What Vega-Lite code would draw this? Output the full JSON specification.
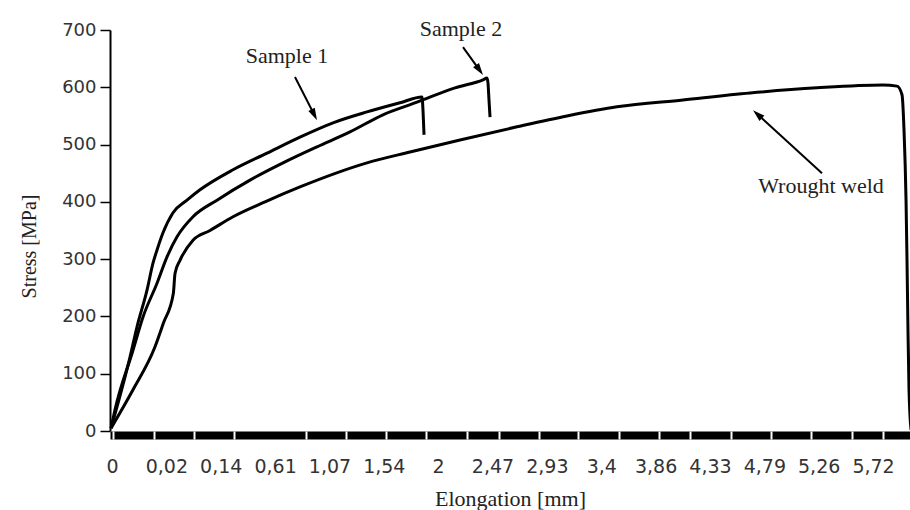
{
  "$schema": "https://vega.github.io/schema/vega-lite/v6.json",
  "width": 800,
  "height": 401,
  "autosize": "none",
  "padding": {"left": 110, "top": 30, "right": 0, "bottom": 79},
  "background": "white",
  "config": {"view": {"stroke": null}},
  "datasets": {
    "curves": [
      {"series": "Sample 1", "x": -0.018, "y": 5},
      {"series": "Sample 1", "x": 0.331, "y": 129},
      {"series": "Sample 1", "x": 0.46, "y": 182},
      {"series": "Sample 1", "x": 0.644, "y": 246},
      {"series": "Sample 1", "x": 0.754, "y": 293},
      {"series": "Sample 1", "x": 0.828, "y": 316},
      {"series": "Sample 1", "x": 0.938, "y": 346},
      {"series": "Sample 1", "x": 1.122, "y": 381},
      {"series": "Sample 1", "x": 1.38, "y": 403},
      {"series": "Sample 1", "x": 1.619, "y": 421},
      {"series": "Sample 1", "x": 2.226, "y": 456},
      {"series": "Sample 1", "x": 2.851, "y": 485},
      {"series": "Sample 1", "x": 3.458, "y": 513},
      {"series": "Sample 1", "x": 4.066, "y": 538},
      {"series": "Sample 1", "x": 4.691, "y": 557},
      {"series": "Sample 1", "x": 5.298, "y": 573},
      {"series": "Sample 1", "x": 5.703, "y": 583},
      {"series": "Sample 1", "x": 5.721, "y": 560},
      {"series": "Sample 1", "x": 5.74, "y": 517},
      {"series": "Sample 2", "x": -0.018, "y": 5},
      {"series": "Sample 2", "x": 0.055, "y": 37},
      {"series": "Sample 2", "x": 0.386, "y": 141},
      {"series": "Sample 2", "x": 0.57, "y": 199},
      {"series": "Sample 2", "x": 0.828, "y": 258},
      {"series": "Sample 2", "x": 1.012, "y": 304},
      {"series": "Sample 2", "x": 1.196, "y": 339},
      {"series": "Sample 2", "x": 1.49, "y": 374},
      {"series": "Sample 2", "x": 1.932, "y": 403},
      {"series": "Sample 2", "x": 2.539, "y": 438},
      {"series": "Sample 2", "x": 3.146, "y": 468},
      {"series": "Sample 2", "x": 3.771, "y": 496},
      {"series": "Sample 2", "x": 4.378, "y": 522},
      {"series": "Sample 2", "x": 4.985, "y": 552},
      {"series": "Sample 2", "x": 5.611, "y": 574},
      {"series": "Sample 2", "x": 6.31, "y": 599},
      {"series": "Sample 2", "x": 6.825, "y": 613},
      {"series": "Sample 2", "x": 6.899, "y": 616},
      {"series": "Sample 2", "x": 6.917, "y": 607},
      {"series": "Sample 2", "x": 6.935, "y": 578},
      {"series": "Sample 2", "x": 6.954, "y": 548},
      {"series": "Wrought weld", "x": -0.018, "y": 5},
      {"series": "Wrought weld", "x": 0.386, "y": 72},
      {"series": "Wrought weld", "x": 0.791, "y": 147},
      {"series": "Wrought weld", "x": 0.944, "y": 188},
      {"series": "Wrought weld", "x": 1.128, "y": 240},
      {"series": "Wrought weld", "x": 1.159, "y": 275},
      {"series": "Wrought weld", "x": 1.251, "y": 298},
      {"series": "Wrought weld", "x": 1.49, "y": 333},
      {"series": "Wrought weld", "x": 1.803, "y": 350},
      {"series": "Wrought weld", "x": 2.226, "y": 374},
      {"series": "Wrought weld", "x": 2.815, "y": 400},
      {"series": "Wrought weld", "x": 3.458, "y": 426},
      {"series": "Wrought weld", "x": 4.691, "y": 468},
      {"series": "Wrought weld", "x": 5.482, "y": 487},
      {"series": "Wrought weld", "x": 6.402, "y": 508},
      {"series": "Wrought weld", "x": 7.45, "y": 531},
      {"series": "Wrought weld", "x": 8.37, "y": 550},
      {"series": "Wrought weld", "x": 9.29, "y": 566},
      {"series": "Wrought weld", "x": 10.504, "y": 578},
      {"series": "Wrought weld", "x": 11.737, "y": 590},
      {"series": "Wrought weld", "x": 12.969, "y": 599},
      {"series": "Wrought weld", "x": 14.183, "y": 604},
      {"series": "Wrought weld", "x": 14.441, "y": 602},
      {"series": "Wrought weld", "x": 14.533, "y": 587},
      {"series": "Wrought weld", "x": 14.57, "y": 525},
      {"series": "Wrought weld", "x": 14.607, "y": 403},
      {"series": "Wrought weld", "x": 14.625, "y": 298},
      {"series": "Wrought weld", "x": 14.643, "y": 176},
      {"series": "Wrought weld", "x": 14.662, "y": 72},
      {"series": "Wrought weld", "x": 14.699, "y": 2}
    ],
    "arrows": [
      {"label": "Sample 1", "x": 3.366, "y": 618, "x2": 3.721, "y2": 552},
      {"label": "Sample 2", "x": 6.457, "y": 670, "x2": 6.761, "y2": 630},
      {"label": "Wrought weld", "x": 13.061, "y": 450, "x2": 11.874, "y2": 553}
    ],
    "heads": [
      {"label": "Sample 1", "x": 3.721, "y": 552},
      {"label": "Sample 2", "x": 6.761, "y": 630},
      {"label": "Wrought weld", "x": 11.874, "y": 553}
    ],
    "texts": [
      {"label": "Sample 1", "x": 3.219, "y": 642},
      {"label": "Sample 2", "x": 6.42, "y": 689},
      {"label": "Wrought weld", "x": 13.043, "y": 415}
    ]
  },
  "encoding": {
    "y": {
      "field": "y",
      "type": "quantitative",
      "scale": {"domain": [0, 700], "nice": false, "zero": false},
      "axis": {
        "values": [0, 100, 200, 300, 400, 500, 600, 700],
        "grid": false,
        "tickSize": 10,
        "tickWidth": 1.5,
        "tickColor": "black",
        "domainColor": "black",
        "domainWidth": 2,
        "labelFont": "DejaVu Sans",
        "labelFontSize": 18,
        "labelColor": "#333",
        "labelPadding": 4,
        "title": "Stress [MPa]",
        "titleFont": "Liberation Serif",
        "titleFontSize": 20,
        "titleFontWeight": "normal",
        "titleColor": "#222",
        "titleX": -81,
        "titleY": 216,
        "titleBaseline": "middle",
        "titleAngle": -90
      }
    }
  },
  "resolve": {"axis": {"x": "independent"}},
  "layer": [
    {
      "data": {"name": "curves"},
      "mark": {"type": "line", "color": "black", "strokeWidth": 3, "strokeJoin": "round", "interpolate": "monotone"},
      "encoding": {
        "x": {
          "field": "x",
          "type": "quantitative",
          "scale": {"domain": [-0.037, 14.68], "nice": false, "zero": false},
          "axis": {
            "orient": "bottom",
            "values": [0, 1, 2, 3, 4, 5, 6, 7, 8, 9, 10, 11, 12, 13, 14],
            "labelExpr": "['0','0,02','0,14','0,61','1,07','1,54','2','2,47','2,93','3,4','3,86','4,33','4,79','5,26','5,72'][datum.value]",
            "grid": false,
            "ticks": false,
            "domainColor": "black",
            "domainWidth": 8,
            "offset": 4,
            "labelFont": "DejaVu Sans",
            "labelFontSize": 19,
            "labelColor": "#333",
            "labelPadding": 22,
            "labelFlush": false,
            "labelOverlap": false,
            "title": "Elongation [mm]",
            "titleFont": "Liberation Serif",
            "titleFontSize": 22,
            "titleFontWeight": "normal",
            "titleColor": "#222",
            "titleX": 400,
            "titleY": 70,
            "titleBaseline": "alphabetic"
          }
        },
        "detail": {"field": "series"}
      }
    },
    {
      "data": {"name": "arrows"},
      "mark": {"type": "rule", "color": "black", "strokeWidth": 2},
      "encoding": {
        "x": {
          "field": "x",
          "type": "quantitative",
          "scale": {"domain": [-0.037, 14.68], "nice": false, "zero": false},
          "axis": {
            "orient": "bottom",
            "values": [0.018, 0.773, 1.508, 2.244, 3.569, 4.305, 5.04, 5.776, 6.531, 7.119, 7.855, 8.572, 9.327, 10.063, 10.633, 11.387, 12.123, 12.859, 13.613, 14.183],
            "labels": false,
            "domain": false,
            "grid": false,
            "ticks": true,
            "tickColor": "white",
            "tickWidth": 2,
            "tickSize": 8,
            "offset": 0,
            "zindex": 1,
            "title": null
          }
        },
        "x2": {"field": "x2"},
        "y2": {"field": "y2"}
      }
    },
    {
      "data": {"name": "heads"},
      "transform": [{"filter": "datum.label == 'Sample 1'"}],
      "mark": {"type": "point", "shape": "M0,-1L0.6,1L-0.6,1Z", "filled": true, "color": "black", "opacity": 1, "size": 144, "angle": 153},
      "encoding": {
        "x": {"field": "x", "type": "quantitative", "scale": {"domain": [-0.037, 14.68], "nice": false, "zero": false}, "axis": null}
      }
    },
    {
      "data": {"name": "heads"},
      "transform": [{"filter": "datum.label == 'Sample 2'"}],
      "mark": {"type": "point", "shape": "M0,-1L0.6,1L-0.6,1Z", "filled": true, "color": "black", "opacity": 1, "size": 144, "angle": 144.5},
      "encoding": {
        "x": {"field": "x", "type": "quantitative", "scale": {"domain": [-0.037, 14.68], "nice": false, "zero": false}, "axis": null}
      }
    },
    {
      "data": {"name": "heads"},
      "transform": [{"filter": "datum.label == 'Wrought weld'"}],
      "mark": {"type": "point", "shape": "M0,-1L0.6,1L-0.6,1Z", "filled": true, "color": "black", "opacity": 1, "size": 144, "angle": 312.4},
      "encoding": {
        "x": {"field": "x", "type": "quantitative", "scale": {"domain": [-0.037, 14.68], "nice": false, "zero": false}, "axis": null}
      }
    },
    {
      "data": {"name": "texts"},
      "mark": {"type": "text", "font": "Liberation Serif", "fontSize": 22, "color": "#222", "align": "center", "baseline": "alphabetic"},
      "encoding": {
        "x": {"field": "x", "type": "quantitative", "scale": {"domain": [-0.037, 14.68], "nice": false, "zero": false}, "axis": null},
        "text": {"field": "label"}
      }
    }
  ]
}
